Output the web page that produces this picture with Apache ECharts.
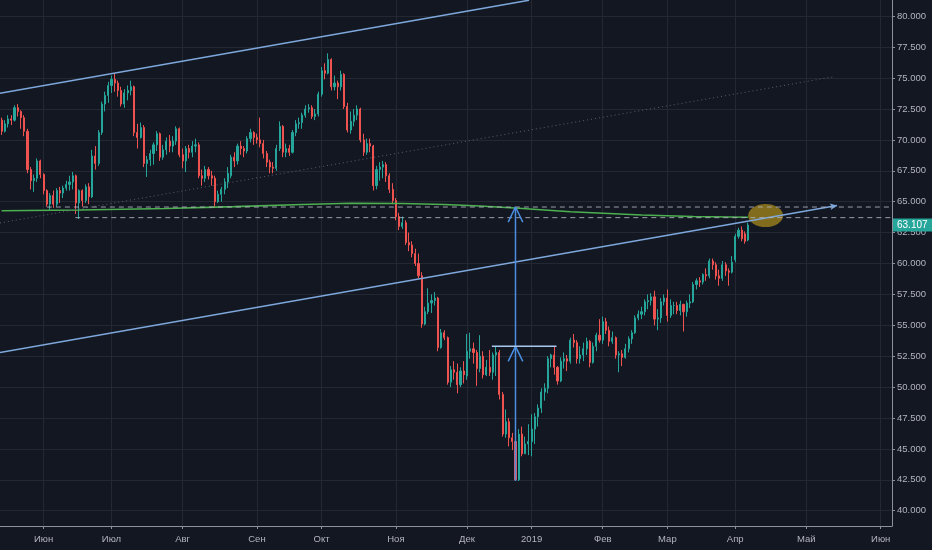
<!DOCTYPE html>
<html><head><meta charset="utf-8">
<script src="https://cdn.jsdelivr.net/npm/echarts@6/dist/echarts.min.js"></script>
<style>html,body{margin:0;padding:0;background:#131722;}#c{width:932px;height:550px;}</style>
</head><body><div id="c"></div>
<script>
// ---------- data ----------
const monthNames = ['Янв','Фев','Мар','Апр','Май','Июн','Июл','Авг','Сен','Окт','Ноя','Дек'];
const yTicks = [40, 42.5, 45, 47.5, 50, 52.5, 55, 57.5, 60, 62.5, 65, 67.5, 70, 72.5, 75, 77.5, 80];
const firstDay = '2018-05-15';
const lastDay = '2019-06-06';
const closedDays = ['2018-12-25', '2019-01-01'];
const lastPrice = 63.107;

// [date, open, close, low, high]
const barsMayJun = [
 ['2018-05-15',71.6,70.7,70.4,71.8],['2018-05-16',70.7,71.3,70.6,71.6],['2018-05-17',71.3,71.7,71.0,72.0],
 ['2018-05-18',71.7,71.6,71.2,72.0],['2018-05-21',71.6,72.6,71.5,72.8],['2018-05-22',72.6,72.3,71.9,72.9],
 ['2018-05-23',72.3,71.8,70.9,72.4],['2018-05-24',71.8,70.7,70.3,72.0],['2018-05-25',70.7,67.6,67.3,70.9],
 ['2018-05-28',67.6,66.7,66.0,67.8],['2018-05-29',66.7,66.9,65.8,67.2],['2018-05-30',66.9,68.3,66.6,68.5],
 ['2018-05-31',68.3,67.2,66.9,68.4],['2018-06-01',67.2,65.9,65.6,67.3],['2018-06-04',65.9,64.8,64.6,66.0],
 ['2018-06-05',64.8,65.5,64.3,65.7],['2018-06-06',65.5,64.8,64.5,65.9],['2018-06-07',64.8,65.9,64.6,66.1],
 ['2018-06-08',65.9,65.7,64.9,66.2],['2018-06-11',65.7,66.1,65.3,66.3],['2018-06-12',66.1,66.4,65.9,66.7],
 ['2018-06-13',66.4,66.6,65.9,67.1],['2018-06-14',66.6,67.1,66.0,67.4],['2018-06-15',67.1,64.9,64.0,67.2],
 ['2018-06-18',64.9,65.9,63.6,66.0],['2018-06-19',65.9,65.1,64.6,66.0],['2018-06-20',65.1,66.2,64.9,66.4],
 ['2018-06-21',66.2,65.4,64.8,66.5],['2018-06-22',65.4,68.7,65.3,69.2],['2018-06-25',68.7,68.1,67.6,69.5],
 ['2018-06-26',68.1,70.6,67.9,70.8],['2018-06-27',70.6,72.9,70.4,73.1],['2018-06-28',72.9,73.6,72.3,73.9],
 ['2018-06-29',73.6,74.4,73.0,74.7]
];
const barsJulAug = [
 ['2018-07-02',74.4,74.9,73.8,75.2],['2018-07-03',74.9,74.6,73.9,75.4],['2018-07-04',74.6,74.0,73.5,74.8],
 ['2018-07-05',74.0,72.9,72.7,74.3],['2018-07-06',72.9,73.8,72.6,74.1],['2018-07-09',73.8,74.0,73.2,74.4],
 ['2018-07-10',74.0,74.3,73.6,74.8],['2018-07-11',74.3,70.6,70.3,74.4],['2018-07-12',70.6,70.2,69.3,71.3],
 ['2018-07-13',70.2,71.0,70.1,71.4],['2018-07-16',71.0,68.1,67.8,71.2],['2018-07-17',68.1,68.4,67.0,68.7],
 ['2018-07-18',68.4,68.9,67.9,69.2],['2018-07-19',68.9,69.6,68.0,69.8],['2018-07-20',69.6,70.5,69.1,70.7],
 ['2018-07-23',70.5,68.6,68.3,70.6],['2018-07-24',68.6,69.2,68.4,69.6],['2018-07-25',69.2,69.9,68.8,70.2],
 ['2018-07-26',69.9,69.5,69.0,70.4],['2018-07-27',69.5,69.9,69.0,70.3],['2018-07-30',69.9,70.9,69.6,71.1],
 ['2018-07-31',70.9,68.8,68.6,71.0],['2018-08-01',68.8,68.3,67.7,69.3],['2018-08-02',68.3,69.3,67.4,69.5],
 ['2018-08-03',69.3,69.0,68.5,69.6],['2018-08-06',69.0,69.5,68.6,69.9],['2018-08-07',69.5,69.6,69.0,70.1],
 ['2018-08-08',69.6,67.1,66.9,69.8],['2018-08-09',67.1,66.9,66.3,67.6],['2018-08-10',66.9,67.6,66.6,67.9],
 ['2018-08-13',67.6,67.1,66.8,67.8],['2018-08-14',67.1,66.9,66.3,67.5],['2018-08-15',66.9,65.0,64.5,67.1],
 ['2018-08-16',65.0,65.6,64.9,65.9],['2018-08-17',65.6,66.0,65.0,66.2],['2018-08-20',66.0,66.6,65.6,66.9],
 ['2018-08-21',66.6,67.3,66.1,67.8],['2018-08-22',67.1,68.6,66.9,68.8],['2018-08-23',68.6,68.3,67.8,69.0],
 ['2018-08-24',68.3,69.5,68.0,69.7],['2018-08-27',69.5,69.3,68.8,69.9],['2018-08-28',69.3,69.1,68.6,69.5],
 ['2018-08-29',69.1,70.1,68.9,70.3],['2018-08-30',70.1,70.6,69.8,70.9],['2018-08-31',70.6,70.2,69.6,70.7]
];
const barsSepOct = [
 ['2018-09-03',70.2,70.0,69.7,70.5],['2018-09-04',70.0,69.7,69.4,71.8],['2018-09-05',69.7,68.9,68.5,70.0],
 ['2018-09-06',68.9,68.2,67.8,69.1],['2018-09-07',68.2,67.8,67.3,68.4],['2018-09-10',67.8,67.7,67.3,68.2],
 ['2018-09-11',67.7,69.3,67.5,69.6],['2018-09-12',69.3,71.1,69.1,71.5],['2018-09-13',71.1,69.0,68.6,71.2],
 ['2018-09-14',69.0,69.3,68.6,69.7],['2018-09-17',69.3,69.0,68.7,69.6],['2018-09-18',69.0,70.6,68.9,70.8],
 ['2018-09-19',70.6,71.3,70.3,71.6],['2018-09-20',71.3,71.4,70.9,71.8],['2018-09-21',71.4,72.0,70.9,72.2],
 ['2018-09-24',72.0,72.5,71.8,72.8],['2018-09-25',72.5,72.6,72.2,72.9],['2018-09-26',72.6,71.9,71.7,72.8],
 ['2018-09-27',71.9,72.1,71.6,72.5],['2018-09-28',72.1,73.7,71.9,73.9],
 ['2018-10-01',73.7,75.6,73.5,75.9],['2018-10-02',75.6,75.4,74.9,76.2],['2018-10-03',75.4,76.5,75.3,77.0],
 ['2018-10-04',76.5,74.3,74.0,76.6],['2018-10-05',74.3,74.6,74.0,75.2],['2018-10-08',74.6,74.3,73.3,74.8],
 ['2018-10-09',74.3,75.3,74.0,75.6],['2018-10-10',75.3,72.7,72.5,75.4],['2018-10-11',72.7,70.8,70.6,73.0],
 ['2018-10-12',70.8,71.5,70.5,72.3],['2018-10-15',71.5,72.0,71.1,72.5],['2018-10-16',72.0,72.5,71.6,72.8],
 ['2018-10-17',72.5,70.0,69.8,72.6],['2018-10-18',70.0,69.0,68.7,70.5],['2018-10-19',69.0,69.7,68.8,70.1],
 ['2018-10-22',69.7,69.5,69.0,70.1],['2018-10-23',69.5,66.3,65.9,69.6],['2018-10-24',66.3,67.6,66.0,67.9],
 ['2018-10-25',67.6,67.8,66.7,68.2],['2018-10-26',67.8,68.0,66.9,68.3],['2018-10-29',68.0,67.1,66.6,68.2],
 ['2018-10-30',67.1,66.0,65.7,67.3],['2018-10-31',66.0,65.1,64.8,66.5]
];
const barsNovDec = [
 ['2018-11-01',65.1,63.8,63.5,65.3],['2018-11-02',63.8,63.0,62.7,64.1],['2018-11-05',63.0,63.3,62.8,63.8],
 ['2018-11-06',63.3,61.7,61.5,63.5],['2018-11-07',61.7,61.5,61.0,62.5],['2018-11-08',61.5,60.8,60.5,61.8],
 ['2018-11-09',60.8,60.0,59.8,61.2],['2018-11-12',60.0,59.0,58.8,60.8],['2018-11-13',59.0,55.1,54.8,59.3],
 ['2018-11-14',55.1,56.1,55.0,56.5],['2018-11-15',56.1,56.8,55.9,58.0],['2018-11-16',56.8,57.0,56.0,57.5],
 ['2018-11-19',57.0,57.2,56.6,57.7],['2018-11-20',57.2,53.2,52.9,57.3],['2018-11-21',53.2,54.4,53.1,54.7],
 ['2018-11-22',54.4,54.0,53.8,54.6],['2018-11-23',54.0,50.4,50.2,54.1],['2018-11-26',50.4,51.4,50.0,51.7],
 ['2018-11-27',51.4,51.2,50.6,52.1],['2018-11-28',51.2,50.2,49.5,51.9],['2018-11-29',50.2,51.3,50.0,51.6],
 ['2018-11-30',51.3,51.0,50.3,52.1],
 ['2018-12-03',50.9,52.9,50.6,54.3],['2018-12-04',52.9,53.1,52.3,54.4],['2018-12-05',53.1,52.8,51.9,53.6],
 ['2018-12-06',52.8,51.5,50.1,53.0],['2018-12-07',51.5,52.5,51.2,54.2],['2018-12-10',52.5,51.0,50.7,52.9],
 ['2018-12-11',51.0,51.6,50.9,52.2],['2018-12-12',51.6,51.2,50.9,53.0],['2018-12-13',51.2,52.6,50.6,52.8],
 ['2018-12-14',52.6,52.8,50.9,53.3],['2018-12-17',52.8,49.4,49.0,53.0],['2018-12-18',49.4,46.2,46.0,49.6],
 ['2018-12-19',46.2,47.2,45.9,48.2],['2018-12-20',47.2,45.9,45.2,47.5],['2018-12-21',45.9,45.6,44.9,46.3],
 ['2018-12-24',45.6,42.5,42.4,46.2],['2018-12-26',42.5,46.2,42.4,46.6],['2018-12-27',46.2,44.6,44.4,46.8],
 ['2018-12-28',44.6,45.4,44.6,46.0],['2018-12-31',45.4,45.6,44.5,47.0]
];
const barsJanFeb = [
 ['2019-01-02',45.6,46.6,44.4,47.8],['2019-01-03',46.6,47.6,45.4,47.9],['2019-01-04',47.6,48.3,46.8,48.6],
 ['2019-01-07',48.3,49.6,47.9,49.9],['2019-01-08',49.6,49.9,48.9,50.3],['2019-01-09',49.9,52.3,49.5,52.5],
 ['2019-01-10',52.3,52.6,51.6,52.7],['2019-01-11',52.6,51.6,51.0,53.3],['2019-01-14',51.6,50.5,50.2,51.7],
 ['2019-01-15',50.5,52.1,50.4,52.4],['2019-01-16',52.1,52.3,51.5,52.8],['2019-01-17',52.3,52.1,51.3,52.6],
 ['2019-01-18',52.1,53.8,51.9,54.0],['2019-01-21',53.8,53.6,53.2,54.3],['2019-01-22',53.6,52.3,51.9,53.8],
 ['2019-01-23',52.3,52.6,51.9,53.3],['2019-01-24',52.6,53.1,52.1,53.6],['2019-01-25',53.1,53.7,52.6,54.0],
 ['2019-01-28',53.7,52.0,51.6,53.8],['2019-01-29',52.0,53.3,51.9,53.6],['2019-01-30',53.3,54.2,52.9,54.4],
 ['2019-01-31',54.2,53.8,53.6,55.5],
 ['2019-02-01',53.8,55.3,53.5,55.7],['2019-02-04',55.3,54.6,54.3,55.6],['2019-02-05',54.6,53.7,53.3,54.9],
 ['2019-02-06',53.7,54.0,53.5,54.5],['2019-02-07',54.0,52.6,52.3,54.1],['2019-02-08',52.6,52.7,51.2,52.9],
 ['2019-02-11',52.7,52.4,51.7,53.0],['2019-02-12',52.4,53.1,52.3,53.5],['2019-02-13',53.1,53.9,52.8,54.1],
 ['2019-02-14',53.9,54.4,53.5,54.6],['2019-02-15',54.4,55.6,54.3,55.8],['2019-02-18',55.6,55.9,55.4,56.2],
 ['2019-02-19',55.9,56.1,55.5,56.5],['2019-02-20',56.1,56.9,55.8,57.1],['2019-02-21',56.9,57.0,56.3,57.5],
 ['2019-02-22',57.0,57.3,56.6,57.6],['2019-02-25',57.3,55.5,55.0,57.8],['2019-02-26',55.5,55.6,54.6,56.3],
 ['2019-02-27',55.6,56.9,55.2,57.2],['2019-02-28',56.9,57.2,56.6,57.5]
];
const barsMarApr = [
 ['2019-03-01',57.2,55.8,55.3,57.9],['2019-03-04',55.8,56.6,55.6,57.1],['2019-03-05',56.6,56.6,55.9,56.9],
 ['2019-03-06',56.6,56.2,55.9,56.9],['2019-03-07',56.2,56.7,55.8,57.0],['2019-03-08',56.7,56.1,54.5,56.7],
 ['2019-03-11',56.1,56.8,55.7,57.0],['2019-03-12',56.8,56.9,56.4,57.5],['2019-03-13',56.9,58.3,56.8,58.5],
 ['2019-03-14',58.3,58.6,57.9,58.8],['2019-03-15',58.6,58.5,58.1,58.9],['2019-03-18',58.5,59.1,58.3,59.2],
 ['2019-03-19',59.1,59.0,58.6,59.6],['2019-03-20',59.0,60.2,58.8,60.4],['2019-03-21',60.2,59.9,59.5,60.4],
 ['2019-03-22',59.9,59.0,58.7,60.1],['2019-03-25',59.0,58.8,58.2,59.5],['2019-03-26',58.8,59.9,58.6,60.2],
 ['2019-03-27',59.9,59.4,59.0,60.1],['2019-03-28',59.4,59.3,58.2,59.6],['2019-03-29',59.3,60.1,59.2,60.6],
 ['2019-04-01',60.3,62.2,60.1,62.4],['2019-04-02',62.2,62.7,62.0,62.9],['2019-04-03',62.7,62.0,61.8,63.0],
 ['2019-04-04',62.4,61.8,61.6,62.6],['2019-04-05',61.9,63.107,61.8,63.3]
];

// green moving average, read at sample dates
const maPoints = [
 ['2018-05-15',64.27],['2018-06-18',64.33],['2018-07-25',64.45],['2018-08-23',64.60],['2018-09-21',64.77],
 ['2018-10-12',64.87],['2018-11-05',64.85],['2018-11-22',64.77],['2018-12-07',64.65],['2018-12-26',64.47],
 ['2019-01-18',64.19],['2019-02-19',63.92],['2019-03-13',63.80],['2019-04-05',63.74]
];

// drawings: [bar number, price]
const channelUpper = [[-0.5, 73.77], [163.2, 81.3]];
const channelLower = [[-0.5, 52.80], [258.5, 64.69]];
const channelMid = [[-0.5, 63.28], [257.9, 75.13]];
const levelHigh = [14, 64.57];
const levelLow = [22.8, 63.71];
const projectionBar = 159;
const projectionLow = 42.4;
const projectionMid = 53.3;
const projectionTop = 64.57;
const projectionMidSpan = [151.7, 171.7];
const highlight = [236.4, 63.88];

// ---------- build ----------
const bars = [].concat(barsMayJun, barsJulAug, barsSepOct, barsNovDec, barsJanFeb, barsMarApr);
const categories = [];
for (let d = new Date(firstDay + 'T00:00:00Z'); ; d.setUTCDate(d.getUTCDate() + 1)) {
  const s = d.toISOString().slice(0, 10);
  if (s > lastDay) break;
  const wd = d.getUTCDay();
  if (wd === 0 || wd === 6 || closedDays.indexOf(s) >= 0) continue;
  categories.push(s);
}
const N = categories.length;
const pos = {};
categories.forEach((c, i) => pos[c] = i);
const candleData = categories.map(() => '-');
bars.forEach(b => { candleData[pos[b[0]]] = [b[1], b[2], b[3], b[4]]; });
const maData = maPoints.map(p => [pos[p[0]], p[1]]);

function monthOf(s) { return +s.slice(5, 7) - 1; }
function isMonthStart(i, v) { return i > 0 && monthOf(categories[i]) !== monthOf(categories[i - 1]); }
function fmtMonth(v) { const m = monthOf(v); return m === 0 ? v.slice(0, 4) : monthNames[m]; }

const FONT = '"Liberation Sans", Arial, sans-serif';
const AX = '#8e919a';
const GRID = '#242833';
const CH = '#7ea8dc';
const BLUE = '#4b8ee0';

function drawLine(pts, style, extra) {
  return Object.assign({
    type: 'line', xAxisIndex: 1, yAxisIndex: 0, data: pts, symbol: 'none',
    silent: true, animation: false, z: 5, lineStyle: style, emphasis: { disabled: true }
  }, extra || {});
}
const chev = (b, v) => [[b - 2.26, v - 1.22], [b, v], [b + 2.26, v - 1.22]];
const lowerPts = [channelLower[0], {
  value: channelLower[1], symbol: 'arrow', symbolSize: [5, 7], symbolRotate: -80,
  itemStyle: { color: CH }
}];

const chart = echarts.init(document.getElementById('c'));
chart.setOption({
  backgroundColor: '#131722',
  animation: false,
  grid: { left: 0, right: 40, top: 0, bottom: 24 },
  xAxis: [{
    type: 'category', data: categories, boundaryGap: true,
    axisLine: { onZero: false, lineStyle: { color: AX, width: 1 } },
    axisTick: { show: true, alignWithLabel: true, interval: isMonthStart, length: 3, lineStyle: { color: AX } },
    axisLabel: { interval: isMonthStart, formatter: fmtMonth, color: '#b2b5be', fontSize: 9.5, margin: 8, fontFamily: FONT },
    splitLine: { show: true, interval: isMonthStart, alignWithLabel: true, lineStyle: { color: GRID, width: 1 } }
  }, {
    type: 'value', min: -0.5, max: N - 0.5, show: false
  }],
  yAxis: {
    type: 'value', position: 'right', min: 38.762, max: 81.319,
    axisLine: { show: true, onZero: false, lineStyle: { color: AX } },
    axisTick: { show: true, length: 3, customValues: yTicks, lineStyle: { color: AX } },
    axisLabel: { customValues: yTicks, formatter: v => v.toFixed(3), color: '#b2b5be', fontSize: 9.5, margin: 5, fontFamily: FONT },
    splitLine: { show: true, lineStyle: { color: GRID, width: 1 } }
  },
  series: [
    {
      type: 'scatter', xAxisIndex: 1, yAxisIndex: 0, data: [highlight], symbol: 'circle',
      symbolSize: [35, 23], itemStyle: { color: 'rgba(206,166,26,0.74)' }, silent: true, z: 3
    },
    {
      type: 'candlestick', data: candleData, barWidth: 1.6, z: 2,
      itemStyle: { color: '#26a69a', color0: '#ef5350', borderColor: '#26a69a', borderColor0: '#ef5350', borderWidth: 1 },
      emphasis: { disabled: true },
      markLine: {
        silent: true, symbol: 'none', animation: false,
        lineStyle: { color: 'transparent', width: 0 },
        data: [{ yAxis: lastPrice }],
        label: {
          position: 'end', distance: 1, formatter: lastPrice.toFixed(3), color: '#ffffff',
          backgroundColor: '#26a69a', padding: [2, 5, 1, 4], fontSize: 10, fontFamily: FONT
        }
      }
    },
    drawLine(maData, { color: '#4caf50', width: 1.6 }),
    drawLine(channelMid, { color: '#5d606b', width: 1, type: [1, 3] }),
    drawLine(channelUpper, { color: CH, width: 1.5 }),
    drawLine(lowerPts, { color: CH, width: 1.5 }, { showSymbol: true }),
    drawLine([levelHigh, [N - 0.5, levelHigh[1]]], { color: '#b2b5be', width: 1, type: [5, 4], opacity: 0.85 }),
    drawLine([levelLow, [N - 0.5, levelLow[1]]], { color: '#b2b5be', width: 1, type: [5, 4], opacity: 0.85 }),
    drawLine([[projectionBar, projectionLow], [projectionBar, projectionTop]], { color: BLUE, width: 1.5 }),
    drawLine(chev(projectionBar, projectionTop), { color: BLUE, width: 1.5 }),
    drawLine(chev(projectionBar, projectionMid), { color: BLUE, width: 1.5 }),
    drawLine([[projectionMidSpan[0], projectionMid], [projectionMidSpan[1], projectionMid]], { color: '#a9c8ef', width: 1.5 })
  ]
});
</script>
</body></html>
